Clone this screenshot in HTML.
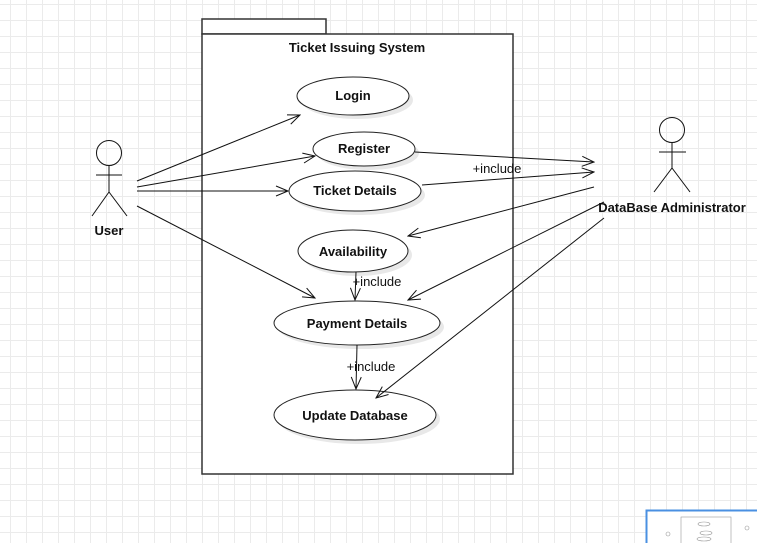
<!DOCTYPE html>
<html><head><style>
html,body{margin:0;padding:0;width:757px;height:543px;overflow:hidden}
body{background-color:#fff;background-image:linear-gradient(to right,#ebebeb 1px,transparent 1px),linear-gradient(to bottom,#ebebeb 1px,transparent 1px);background-size:16px 16px;background-position:10px 4px}
svg{display:block}
text{font-family:"Liberation Sans",sans-serif;font-size:13px;fill:#111}
.b{font-weight:bold}
</style></head><body>
<svg width="757" height="543" viewBox="0 0 757 543" xmlns="http://www.w3.org/2000/svg">
<defs>
<marker id="a" markerWidth="14" markerHeight="12" refX="13" refY="6" orient="auto" markerUnits="userSpaceOnUse">
<path d="M1 1L13 6L1 11" fill="none" stroke="#111" stroke-width="1"/>
</marker>
</defs>
<rect x="202" y="19" width="124" height="15" fill="#fff" stroke="#333" stroke-width="1.5"/>
<rect x="202" y="34" width="311" height="440" fill="#fff" stroke="#333" stroke-width="1.5"/>
<text x="357" y="52" text-anchor="middle" class="b">Ticket Issuing System</text>
<g fill="#e8e8e8">
<ellipse cx="357" cy="100" rx="56" ry="19"/>
<ellipse cx="368" cy="153" rx="51" ry="17"/>
<ellipse cx="359" cy="195" rx="66" ry="20"/>
<ellipse cx="357" cy="255" rx="55" ry="21"/>
<ellipse cx="361" cy="327" rx="83" ry="22"/>
<ellipse cx="359" cy="419" rx="81" ry="25"/>
</g>
<g fill="#fff" stroke="#222" stroke-width="1">
<ellipse cx="353" cy="96" rx="56" ry="19"/>
<ellipse cx="364" cy="149" rx="51" ry="17"/>
<ellipse cx="355" cy="191" rx="66" ry="20"/>
<ellipse cx="353" cy="251" rx="55" ry="21"/>
<ellipse cx="357" cy="323" rx="83" ry="22"/>
<ellipse cx="355" cy="415" rx="81" ry="25"/>
</g>
<g text-anchor="middle">
<text x="353" y="100" class="b">Login</text>
<text x="364" y="153" class="b">Register</text>
<text x="355" y="195" class="b">Ticket Details</text>
<text x="353" y="256" class="b">Availability</text>
<text x="357" y="328" class="b">Payment Details</text>
<text x="355" y="420" class="b">Update Database</text>
</g>
<g stroke="#111" fill="none" stroke-width="1">
<circle cx="109" cy="153" r="12.5"/>
<line x1="109" y1="166" x2="109" y2="192"/>
<line x1="96" y1="175" x2="122" y2="175"/>
<line x1="109" y1="192" x2="92" y2="216"/>
<line x1="109" y1="192" x2="127" y2="216"/>
<circle cx="672" cy="130" r="12.5"/>
<line x1="672" y1="143" x2="672" y2="168"/>
<line x1="659" y1="152" x2="686" y2="152"/>
<line x1="672" y1="168" x2="654" y2="192"/>
<line x1="672" y1="168" x2="690" y2="192"/>
</g>
<text x="109" y="235" text-anchor="middle" class="b">User</text>
<text x="672" y="212" text-anchor="middle" class="b">DataBase Administrator</text>
<g stroke="#111" stroke-width="1" fill="none" marker-end="url(#a)">
<line x1="137" y1="181" x2="300" y2="115"/>
<line x1="137" y1="187" x2="315" y2="156"/>
<line x1="137" y1="191" x2="288" y2="191"/>
<line x1="137" y1="206" x2="315" y2="298"/>
<line x1="415" y1="152" x2="594" y2="162"/>
<line x1="422" y1="185" x2="594" y2="172"/>
<line x1="594" y1="187" x2="408" y2="236"/>
<line x1="604" y1="202" x2="408" y2="300"/>
<line x1="604" y1="218" x2="376" y2="398"/>
<line x1="356" y1="272" x2="355" y2="300"/>
<line x1="357" y1="345" x2="356" y2="389"/>
</g>
<text x="497" y="173" text-anchor="middle" fill="#333">+include</text>
<text x="377" y="286" text-anchor="middle" fill="#333">+include</text>
<text x="371" y="371" text-anchor="middle" fill="#333">+include</text>
<rect x="646.5" y="510.5" width="120" height="40" fill="#fff" stroke="#4a90e2" stroke-width="2"/>
<g stroke="#999" fill="none" stroke-width="0.6">
<rect x="681" y="517" width="50" height="30"/>
<ellipse cx="704" cy="524" rx="6" ry="2"/>
<ellipse cx="706" cy="533" rx="6" ry="2"/>
<ellipse cx="704" cy="539" rx="7" ry="2"/>
<circle cx="747" cy="528" r="2"/>
<circle cx="668" cy="534" r="2"/>
</g>
</svg>
</body></html>
